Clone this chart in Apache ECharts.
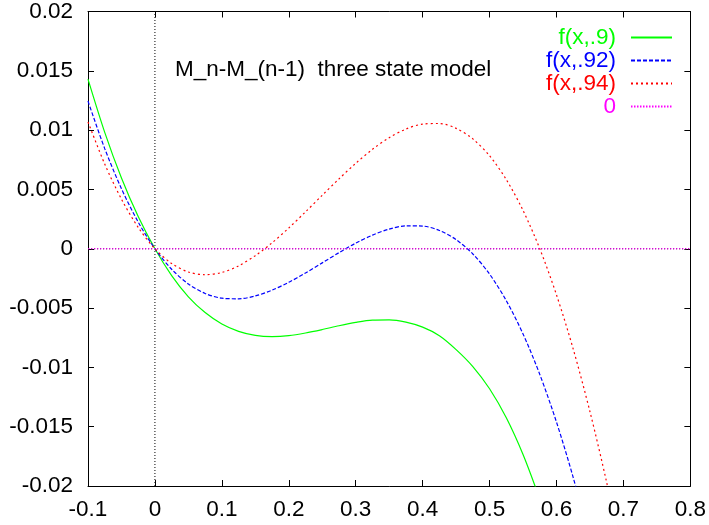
<!DOCTYPE html>
<html><head><meta charset="utf-8">
<script src="https://cdn.jsdelivr.net/npm/echarts@6/dist/echarts.min.js"></script>
<style>html,body{margin:0;padding:0;background:#fff}#c{width:709px;height:525px}</style>
</head><body><div id="c"></div>
<script>
const xTickLabels = ['-0.1','0','0.1','0.2','0.3','0.4','0.5','0.6','0.7','0.8'];
const yTickLabels = ['-0.02','-0.015','-0.01','-0.005','0','0.005','0.01','0.015','0.02'];
const seriesNames = ['f(x,.9)','f(x,.92)','f(x,.94)','0'];
const titleText = 'M_n-M_(n-1)  three state model';

const greenX = [-0.1,-0.075,-0.05,-0.025,0,0.025,0.05,0.075,0.1,0.125,0.15,0.175,0.2,0.225,0.25,0.275,0.3,0.325,0.35,0.375,0.4,0.425,0.45,0.475,0.5,0.525,0.55,0.575];
const greenY = [0.0143,0.00981,0.00596,0.00271,0,-0.00226,-0.00405,-0.00538,-0.00634,-0.00696,-0.0073,-0.0074,-0.00732,-0.0071,-0.00681,-0.00649,-0.00621,-0.00602,-0.006,-0.00619,-0.00661,-0.00733,-0.0085,-0.00993,-0.0118,-0.01425,-0.01735,-0.0211];

const blueX = [-0.1,-0.075,-0.05,-0.025,0,0.025,0.05,0.075,0.1,0.125,0.15,0.175,0.2,0.225,0.25,0.275,0.3,0.325,0.35,0.375,0.4,0.425,0.45,0.475,0.5,0.525,0.55,0.575,0.6,0.625,0.65];
const blueY = [0.01245,0.00844,0.00506,0.00225,0,-0.00173,-0.00297,-0.00377,-0.00417,-0.00422,-0.00398,-0.00349,-0.00283,-0.00204,-0.00119,-0.00033,0.00047,0.00115,0.00166,0.00193,0.00191,0.00154,0.00077,-0.00044,-0.00214,-0.00438,-0.00718,-0.01059,-0.01462,-0.01929,-0.02463];

const redX = [-0.1,-0.075,-0.05,-0.025,0,0.025,0.05,0.075,0.1,0.125,0.15,0.175,0.2,0.225,0.25,0.275,0.3,0.325,0.35,0.375,0.4,0.425,0.45,0.475,0.5,0.525,0.55,0.575,0.6,0.625,0.65,0.675,0.7];
const redY = [0.01069,0.00714,0.00418,0.0018,0,-0.00124,-0.00196,-0.00219,-0.002,-0.00144,-0.00058,0.0005,0.00175,0.00311,0.00451,0.00589,0.0072,0.00838,0.00936,0.01009,0.01051,0.01056,0.01015,0.00926,0.00784,0.00583,0.00323,0,-0.00389,-0.00846,-0.01374,-0.01971,-0.02641];

const zeroX = [-0.1, 0.8];
const zeroY = [0, 0];
const vlineX = [0, 0];
const vlineY = [-0.02, 0.02];

const pairs = (xs, ys) => xs.map((x, i) => [x, ys[i]]);
const FONT = 'Liberation Sans, Arial, Helvetica, sans-serif';
const FS = 22.5;
const xFmt = v => xTickLabels[Math.round((v + 0.1) / 0.1)] ?? '';
const yFmt = v => yTickLabels[Math.round((v + 0.02) / 0.005)] ?? '';

const baseX = {type:'value', min:-0.1, max:0.8, interval:0.1,
  axisLine:{show:true, onZero:false, lineStyle:{color:'#000', width:1}},
  axisTick:{show:true, inside:true, length:6, lineStyle:{color:'#000'}},
  splitLine:{show:false}};
const baseY = {type:'value', min:-0.02, max:0.02, interval:0.005,
  axisLine:{show:true, onZero:false, lineStyle:{color:'#000', width:1}},
  axisTick:{show:true, inside:true, length:6, lineStyle:{color:'#000'}},
  splitLine:{show:false}};

const chart = echarts.init(document.getElementById('c'), null, {renderer:'canvas'});
chart.setOption({
  backgroundColor:'#fff',
  animation:false,
  grid:{left:88, right:16, top:7, bottom:39, containLabel:false},
  title:{text:titleText, left:175, top:58, padding:0,
    textStyle:{fontFamily:FONT, fontSize:FS, fontWeight:'normal', color:'#000'}},
  legend:{orient:'vertical', right:36, top:26, padding:0, itemGap:0, align:'right',
    itemWidth:41, itemHeight:10, selectedMode:false,
    itemStyle:{opacity:0},
    textStyle:{fontFamily:FONT, fontSize:FS, lineHeight:22.3, padding:[0,10,0,0]},
    data:[
      {name:seriesNames[0], textStyle:{color:'#00ff00'}},
      {name:seriesNames[1], textStyle:{color:'#0000ff'}},
      {name:seriesNames[2], textStyle:{color:'#ff0000'}},
      {name:seriesNames[3], textStyle:{color:'#ff00ff'}}
    ]},
  xAxis:[
    Object.assign({}, baseX, {position:'bottom',
      axisLabel:{formatter:xFmt, color:'#000', fontFamily:FONT, fontSize:FS, margin:12}}),
    Object.assign({}, baseX, {position:'top', axisLabel:{show:false}})
  ],
  yAxis:[
    Object.assign({}, baseY, {position:'left',
      axisLabel:{formatter:yFmt, color:'#000', fontFamily:FONT, fontSize:FS, margin:15}}),
    Object.assign({}, baseY, {position:'right', axisLabel:{show:false}})
  ],
  series:[
    {name:'vline', type:'line', data:pairs(vlineX, vlineY), symbol:'none', silent:true,
      lineStyle:{color:'#000', width:1, type:[1,2]}},
    {name:'hline', type:'line', data:pairs(zeroX, zeroY), symbol:'none', silent:true,
      lineStyle:{color:'#000', width:1, type:[1,2]}},
    {name:seriesNames[0], type:'line', data:pairs(greenX, greenY), symbol:'none', smooth:0.3,
      color:'#00ff00', lineStyle:{color:'#00ff00', width:1.2, type:'solid'}},
    {name:seriesNames[1], type:'line', data:pairs(blueX, blueY), symbol:'none', smooth:0.3,
      color:'#0000ff', lineStyle:{color:'#0000ff', width:1.2, type:[4,2]}},
    {name:seriesNames[2], type:'line', data:pairs(redX, redY), symbol:'none', smooth:0.3,
      color:'#ff0000', lineStyle:{color:'#ff0000', width:1.2, type:[2,3]}},
    {name:seriesNames[3], type:'line', data:pairs(zeroX, zeroY), symbol:'none',
      color:'#ff00ff', lineStyle:{color:'#ff00ff', width:1.2, type:[1.5,1.5]}}
  ]
});
</script></body></html>
